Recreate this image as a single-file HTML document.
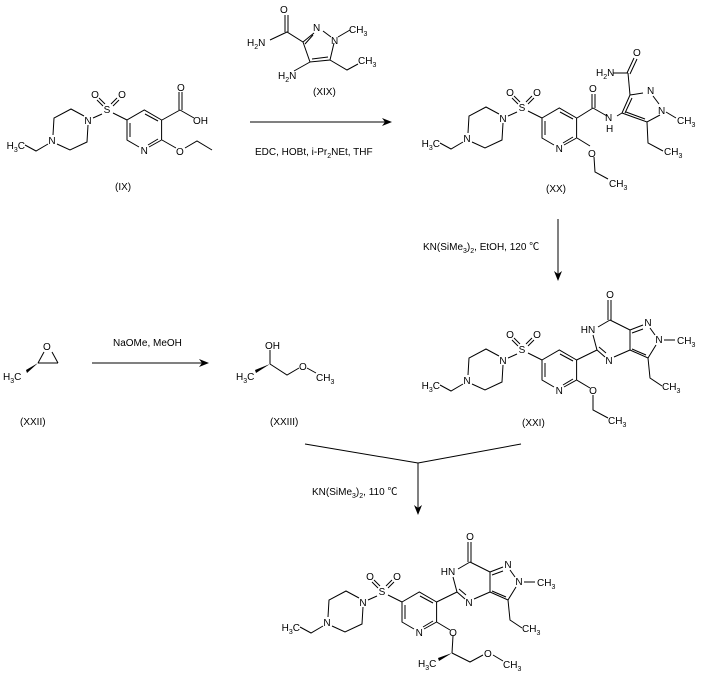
<!DOCTYPE html>
<html><head><meta charset="utf-8"><style>
html,body{margin:0;padding:0;background:#fff;}
svg{display:block;}
text{font-family:"Liberation Sans","Noto Sans CJK SC",sans-serif;font-size:10px;fill:#000;}
.s{font-size:7px;}
</style></head><body>
<svg width="701" height="676" viewBox="0 0 701 676" xmlns="http://www.w3.org/2000/svg">
<g stroke="#000" stroke-width="1" fill="none">
<line x1="250" y1="122" x2="388" y2="122"/>
<line x1="92" y1="363" x2="205" y2="363"/>
<line x1="558" y1="219" x2="558" y2="276"/>
<line x1="305" y1="444" x2="418" y2="463"/>
<line x1="521" y1="444" x2="418" y2="463"/>
<line x1="418" y1="463" x2="418" y2="510"/>
</g>
<g fill="#000">
<polygon points="392,122 382,118 385,122 382,126"/>
<polygon points="209,363 199,359 202,363 199,367"/>
<polygon points="558,281 554,271 558,274 562,271"/>
<polygon points="418,515 414,505 418,508 422,505"/>
</g>

<g id="f1" transform="translate(127,120)">
<g stroke="#000" stroke-width="1" fill="none">
<polyline points="34.6,20 34.6,0 17.3,-10 0,0 0,20 12,27"/>
<line x1="34.6" y1="20" x2="22" y2="27"/>
<line x1="3" y1="3" x2="3" y2="17"/>
<line x1="18" y1="-6" x2="31" y2="1"/>
<line x1="31" y1="19" x2="21" y2="25"/>
<line x1="0" y1="0" x2="-14" y2="-7"/>
<line x1="-22" y1="-16" x2="-28" y2="-22"/><line x1="-24" y1="-14" x2="-30" y2="-20"/>
<line x1="-16" y1="-16" x2="-10" y2="-22"/><line x1="-14" y1="-14" x2="-8" y2="-20"/>
<line x1="-25" y1="-6" x2="-34" y2="-2"/>
<polyline points="-43,-4 -56,-11 -73,-2 -74,15"/>
<polyline points="-70,24 -57,30 -40,22 -39,5"/>
<polyline points="-79,24 -91,31 -102,25"/>
</g>
<text x="17.3" y="34" text-anchor="middle">N</text>
<text x="-20" y="-7" text-anchor="middle">S</text>
<text x="-32" y="-22" text-anchor="middle">O</text>
<text x="-5" y="-22" text-anchor="middle">O</text>
<text x="-39" y="4" text-anchor="middle">N</text>
<text x="-75" y="24" text-anchor="middle">N</text>
<text x="-102" y="29" text-anchor="end">H<tspan class="s" dy="3">3</tspan><tspan dy="-3">C</tspan></text>
</g>

<g stroke="#000" fill="none">
<line x1="162" y1="120" x2="180" y2="110"/>
<line x1="179" y1="110" x2="179" y2="92"/><line x1="182" y1="110" x2="182" y2="92"/>
<line x1="180" y1="110" x2="194" y2="118"/>
<line x1="162" y1="140" x2="176" y2="148"/>
<polyline points="185,148 197,141 212,150"/>
</g>
<text x="177" y="91">O</text><text x="193" y="124">OH</text>
<text x="176" y="155">O</text>
<text x="115" y="190">(IX)</text>

<g stroke="#000" fill="none">
<line x1="285" y1="15" x2="285" y2="32"/><line x1="288" y1="15" x2="288" y2="32"/>
<polyline points="270,40 287,32 303,42 314,33"/>
<line x1="305" y1="44" x2="313" y2="35"/>
<line x1="323" y1="31" x2="331" y2="37"/>
<line x1="338" y1="37" x2="350" y2="30"/>
<polyline points="334,43 330,60 310,62 303,42"/>
<line x1="312" y1="59" x2="328" y2="57"/>
<line x1="310" y1="62" x2="294" y2="71"/>
<polyline points="330,60 347,70 358,64"/>
</g>
<text x="280" y="13">O</text>
<text x="247" y="46">H<tspan class="s" dy="3">2</tspan><tspan dy="-3">N</tspan></text>
<text x="313" y="31">N</text><text x="331" y="44">N</text>
<text x="349" y="33">CH<tspan class="s" dy="3">3</tspan></text>
<text x="358" y="64">CH<tspan class="s" dy="3">3</tspan></text>
<text x="278" y="79">H<tspan class="s" dy="3">2</tspan><tspan dy="-3">N</tspan></text>
<text x="313" y="95">(XIX)</text>
<text x="255" y="155">EDC, HOBt, i-Pr<tspan class="s" dy="3">2</tspan><tspan dy="-3">NEt, THF</tspan></text>

<use href="#f1" transform="translate(415,-2)"/>
<g stroke="#000" fill="none">
<line x1="577" y1="118" x2="593" y2="108"/>
<line x1="592" y1="108" x2="592" y2="94"/><line x1="595" y1="108" x2="595" y2="94"/>
<line x1="593" y1="108" x2="607" y2="116"/>
<line x1="617" y1="116" x2="622" y2="113"/>
<polyline points="622,113 630,95 643,93"/>
<line x1="625" y1="113" x2="632" y2="98"/>
<line x1="630" y1="95" x2="628" y2="73"/>
<line x1="628" y1="73" x2="613" y2="73"/>
<line x1="627" y1="73" x2="634" y2="58"/><line x1="630" y1="74" x2="637" y2="59"/>
<line x1="653" y1="96" x2="659" y2="104"/>
<line x1="666" y1="112" x2="676" y2="118"/>
<polyline points="660,115 647,122 622,113"/>
<line x1="645" y1="119" x2="626" y2="112"/>
<polyline points="647,122 648,143 663,151"/>
<line x1="577" y1="138" x2="590" y2="146"/>
<polyline points="594,157 595,172 608,179"/>
</g>
<text x="589" y="92">O</text>
<text x="633" y="56">O</text>
<text x="596" y="76">H<tspan class="s" dy="3">2</tspan><tspan dy="-3">N</tspan></text>
<text x="605" y="121">N</text><text x="606" y="132">H</text>
<text x="647" y="94">N</text><text x="658" y="114">N</text>
<text x="677" y="124">CH<tspan class="s" dy="3">3</tspan></text>
<text x="664" y="155">CH<tspan class="s" dy="3">3</tspan></text>
<text x="588" y="157">O</text>
<text x="609" y="187">CH<tspan class="s" dy="3">3</tspan></text>
<text x="546" y="192">(XX)</text>
<text x="423" y="250">KN(SiMe<tspan class="s" dy="3">3</tspan><tspan dy="-3">)</tspan><tspan class="s" dy="3">2</tspan><tspan dy="-3">, EtOH, 120 ℃</tspan></text>

<g id="het" transform="translate(542,360)">
<g stroke="#000" fill="none">
<line x1="34.6" y1="0" x2="55" y2="-10"/>
<line x1="55" y1="-10" x2="51" y2="-25"/>
<line x1="55" y1="-10" x2="63" y2="-3"/><line x1="57" y1="-13" x2="64" y2="-7"/>
<line x1="72" y1="-3" x2="88" y2="-10"/>
<line x1="88" y1="-10" x2="88" y2="-30"/>
<line x1="88" y1="-30" x2="68" y2="-40"/>
<line x1="68" y1="-40" x2="56" y2="-33"/>
<line x1="66" y1="-40" x2="66" y2="-60"/><line x1="69" y1="-40" x2="69" y2="-60"/>
<line x1="88" y1="-30" x2="101" y2="-35"/><line x1="90" y1="-27" x2="101" y2="-31"/>
<line x1="108" y1="-32" x2="113" y2="-25"/>
<line x1="122" y1="-20" x2="133" y2="-20"/>
<polyline points="114,-15 106,-2 88,-10"/>
<line x1="104" y1="-5" x2="90" y2="-11"/>
<polyline points="106,-2 108,18 120,26"/>
<line x1="34.6" y1="20" x2="48" y2="28"/>
</g>
<text x="68" y="-62" text-anchor="middle">O</text>
<text x="46" y="-27" text-anchor="middle">HN</text>
<text x="67" y="4" text-anchor="middle">N</text>
<text x="106" y="-34" text-anchor="middle">N</text>
<text x="117" y="-17" text-anchor="middle">N</text>
<text x="135" y="-16">CH<tspan class="s" dy="3">3</tspan></text>
<text x="120" y="30">CH<tspan class="s" dy="3">3</tspan></text>
<text x="51" y="34" text-anchor="middle">O</text>
</g>
<use href="#f1" transform="translate(415,240)"/>
<g stroke="#000" fill="none"><polyline points="593,395 593,410 608,418"/></g>
<text x="608" y="424">CH<tspan class="s" dy="3">3</tspan></text>
<text x="522" y="426">(XXI)</text>

<g stroke="#000" fill="none">
<line x1="38" y1="363" x2="58" y2="363"/>
<line x1="38" y1="363" x2="44" y2="352"/><line x1="58" y1="363" x2="52" y2="352"/>
</g>
<polygon points="38,363 26,370 27,373" fill="#000"/>
<text x="43" y="350">O</text>
<text x="3" y="380">H<tspan class="s" dy="3">3</tspan><tspan dy="-3">C</tspan></text>
<text x="20" y="425">(XXII)</text>
<text x="113" y="346">NaOMe, MeOH</text>

<g stroke="#000" fill="none">
<line x1="270" y1="364" x2="270" y2="350"/>
<polyline points="270,364 287,375 299,368"/>
<line x1="307" y1="368" x2="316" y2="373"/>
</g>
<polygon points="270,364 255,370 256,373" fill="#000"/>
<text x="265" y="349">OH</text>
<text x="236" y="380">H<tspan class="s" dy="3">3</tspan><tspan dy="-3">C</tspan></text>
<text x="299" y="370">O</text>
<text x="316" y="381">CH<tspan class="s" dy="3">3</tspan></text>
<text x="270" y="425">(XXIII)</text>

<text x="312" y="495">KN(SiMe<tspan class="s" dy="3">3</tspan><tspan dy="-3">)</tspan><tspan class="s" dy="3">2</tspan><tspan dy="-3">, 110 ℃</tspan></text>

<use href="#het" transform="translate(-140,242)"/>
<use href="#f1" transform="translate(275,482)"/>
<g stroke="#000" fill="none">
<line x1="453" y1="636" x2="452" y2="653"/>
<polyline points="452,653 470,662 483,655"/>
<line x1="493" y1="655" x2="503" y2="661"/>
</g>
<polygon points="452,653 438,658 439,661" fill="#000"/>
<text x="418" y="667">H<tspan class="s" dy="3">3</tspan><tspan dy="-3">C</tspan></text>
<text x="484" y="657">O</text>
<text x="503" y="668">CH<tspan class="s" dy="3">3</tspan></text>
</svg>
</body></html>
